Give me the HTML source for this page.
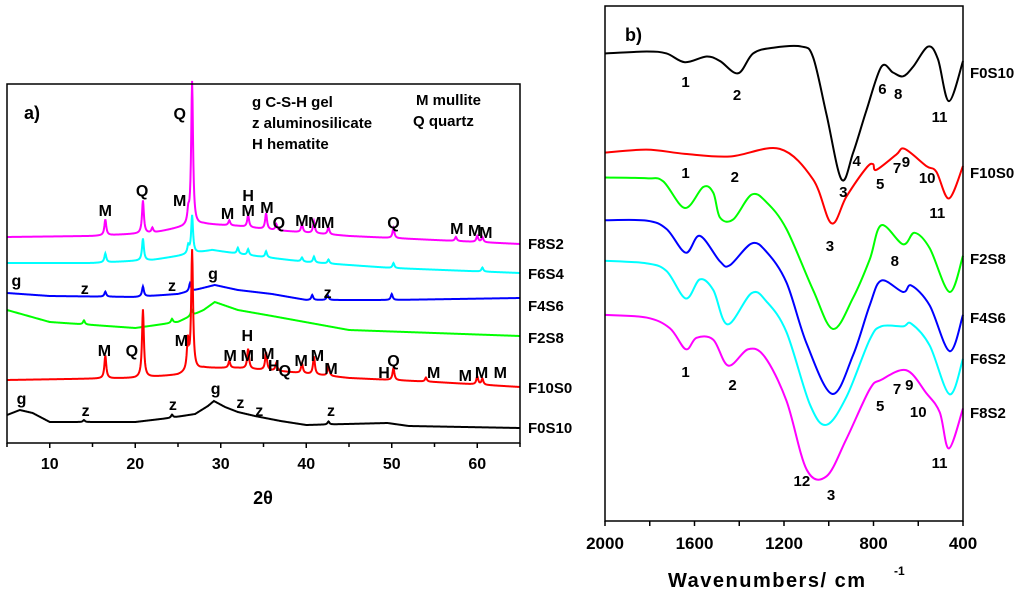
<!DOCTYPE html>
<html><head><meta charset="utf-8">
<style>
html,body{margin:0;padding:0;background:#fff;}
svg{display:block;font-family:"Liberation Sans",Arial,sans-serif;font-weight:bold;}
</style></head>
<body>
<svg id="fig" width="1024" height="599" viewBox="0 0 1024 599">
<g id="pa"></g>
<g id="pb"></g>
</svg>
<script>
// ---------- Panel a: XRD data (2θ, intensity a.u.) ----------
const xrdSeries = ["F8S2","F6S4","F4S6","F2S8","F10S0","F0S10"];
const xrdColors = ["#ff00ff","#00ffff","#0000ff","#00ff00","#ff0000","#000000"];
const baseF8S2 = [[5,213],[15,214],[22,217],[25,222],[28,226],[32,224],[36,220],[45,214],[55,210],[65,206]];
const peakF8S2 = [[16.5,16],[20.9,33],[22,5],[26.2,12],[26.65,144],[31,5],[33.2,12],[35.3,16],[36.5,6],[39.5,8],[40.9,12],[42.6,7],[50.2,10],[57.5,4],[60,6],[60.6,5]];
const baseF6S4 = [[5,187],[15,187],[22,190],[25,194],[29,200],[33,195],[40,188],[50,182],[65,177]];
const peakF6S4 = [[16.5,9],[20.9,22],[26.2,8],[26.65,38],[32,6],[33.2,6],[35.3,6],[39.5,4],[40.9,6],[42.6,4],[50.2,5],[60.6,4]];
const baseF4S6 = [[5,157],[10,154],[20,153],[25,156],[27,160],[29.3,165],[32,160],[36,156],[40,150],[50,150],[65,152]];
const peakF4S6 = [[16.5,5],[20.9,10],[26.4,8],[40.7,5],[42.5,5],[50,6]];
const baseF2S8 = [[5,140],[10,128],[20,122],[25,128],[28,140],[29.3,148],[32,140],[36,134],[45,120],[65,114]];
const peakF2S8 = [[14,4],[24.3,4],[26.6,6]];
const baseF10S0 = [[5,70],[20,72],[25,75],[28,82],[32,82],[38,78],[45,72],[55,68],[65,63]];
const peakF10S0 = [[16.5,23],[20.9,68],[26.15,30],[26.65,120],[31,7],[33.2,20],[35.3,18],[36.5,8],[39.5,10],[40.9,18],[42.6,10],[50.2,12],[54,4],[60,8],[60.6,6]];
const baseF0S10 = [[5,35],[6.5,40],[8,37],[10,28],[20,28],[24,32],[27,36],[28.5,44],[29.2,49],[30.5,43],[32,38],[34,34],[37,29],[40,25],[49.5,27],[52,24],[65,22]];
const peakF0S10 = [[14,2],[24.3,3],[42.6,3]];
const xrdTicks = [10,20,30,40,50,60];
const xrdLabelY = [243,273,305,337,387,427];
// phase marks: [letter, 2θ, page-y of label]
const xrdMarks = [
["Q",25.2,113],["M",16.5,210],["Q",20.8,190],["M",25.2,200],["M",30.8,213],["H",33.2,195],["M",33.2,210],["M",35.4,207],["Q",36.8,222],["M",39.5,220],["M",41.0,222],["M",42.5,222],["Q",50.2,222],["M",57.6,228],["M",59.7,230],["M",61.0,232],
["g",6.1,280],["z",14.1,288],["z",24.3,285],["g",29.1,273],["z",42.5,292],
["M",16.4,350],["Q",19.6,350],["M",25.4,340],["H",33.1,335],["M",31.1,355],["M",33.1,355],["M",35.5,353],["H",36.2,365],["Q",37.5,370],["M",39.4,360],["M",41.3,355],["M",42.9,368],["H",49.1,372],["Q",50.2,360],["M",54.9,372],["M",58.6,375],["M",60.5,372],["M",62.7,372],
["g",6.7,398],["z",14.2,410],["z",24.4,404],["g",29.4,388],["z",32.3,402],["z",34.5,410],["z",42.9,410]];

// ---------- Panel b: FTIR data (wavenumber, transmittance a.u.) ----------
const ftirSeries = ["F0S10","F10S0","F2S8","F4S6","F6S2","F8S2"];
const ftirColors = ["#000000","#ff0000","#00ff00","#0000ff","#00ffff","#ff00ff"];
const wnF0S10 = [2000,1814,1725,1643,1546,1486,1405,1338,1248,1122,1070,1010,943,891,832,765,713,668,623,556,512,463,400];
const tF0S10 = [1260,1265,1260,1237,1252,1240,1208,1260,1275,1278,1250,1100,930,1000,1110,1225,1210,1200,1225,1278,1245,1135,1240];
const wnF10S0 = [2000,1814,1643,1442,1219,1070,988,921,832,802,787,698,661,564,519,463,400];
const tF10S0 = [1000,1008,997,990,1010,930,815,885,960,970,955,995,1010,965,950,880,965];
const wnF2S8 = [2000,1814,1740,1643,1561,1516,1486,1427,1345,1278,1189,1070,981,891,817,765,668,616,549,460,400];
const tF2S8 = [935,933,925,855,910,895,830,825,890,870,800,640,538,620,720,810,760,790,750,635,730];
const wnF4S6 = [2000,1814,1725,1639,1576,1486,1442,1345,1278,1189,1099,985,891,817,765,668,631,549,460,400];
const tF4S6 = [823,822,800,738,782,715,705,762,740,660,500,368,470,600,665,635,652,600,480,575];
const wnF6S2 = [2000,1814,1725,1639,1576,1516,1452,1345,1278,1189,1084,1010,921,817,765,668,631,549,460,400];
const tF6S2 = [717,710,690,618,668,640,550,632,610,530,340,287,360,510,545,545,552,495,367,460];
const wnF8S2 = [2000,1814,1710,1639,1591,1516,1449,1360,1286,1189,1099,1010,921,817,765,653,564,504,463,400];
const tF8S2 = [575,568,540,485,515,510,442,485,465,350,170,152,250,380,405,430,370,320,225,330];
const ftirTicks = [2000,1600,1200,800,400];
const ftirLabelY = [72,172,258,317,358,412];
// band numbers: [label, wavenumber, page-y]
const ftirMarks = [
["1",1640,81],["2",1410,94],["3",935,191],["4",875,160],["6",760,88],["8",690,93],["11",505,116],
["1",1640,172],["2",1420,176],["3",995,245],["5",770,183],["7",695,167],["9",655,161],["10",560,177],["11",515,212],
["8",705,260],
["1",1640,371],["2",1430,384],["12",1120,480],["3",990,494],["5",770,405],["7",695,388],["9",640,384],["10",600,411],["11",505,462]];

const NS="http://www.w3.org/2000/svg";
function mk(parent,tag,attrs,text){const e=document.createElementNS(NS,tag);for(const k in attrs)e.setAttribute(k,attrs[k]);if(text!==undefined)e.textContent=text;parent.appendChild(e);return e;}
function interp(base,x){for(let i=0;i<base.length-1;i++){if(x<=base[i+1][0]){const t=(x-base[i][0])/(base[i+1][0]-base[i][0]);return base[i][1]+t*(base[i+1][1]-base[i][1]);}}return base[base.length-1][1];}

// ----- Panel a -----
const pa=document.getElementById('pa');
const AX0=7,AX1=520,AY0=84,AY1=443;
const xA=v=>AX0+(v-5)*(AX1-AX0)/60;
const yA=v=>450-v;
const xrdBases=[baseF8S2,baseF6S4,baseF4S6,baseF2S8,baseF10S0,baseF0S10];
const xrdPeaks=[peakF8S2,peakF6S4,peakF4S6,peakF2S8,peakF10S0,peakF0S10];
xrdSeries.forEach((name,i)=>{
  let d="";
  for(let x=5;x<=65.0001;x+=0.05){
    let v=interp(xrdBases[i],x);
    xrdPeaks[i].forEach(p=>{const w=0.13;v+=p[1]*w*w/((x-p[0])*(x-p[0])+w*w);});
    d+=(d?"L":"M")+xA(x).toFixed(2)+","+yA(v).toFixed(2);
  }
  const path=mk(pa,'path',{d:d,fill:'none',stroke:xrdColors[i],'stroke-width':2});
  
  
  const lb=mk(pa,'text',{x:528,y:xrdLabelY[i]+6,'font-size':15,fill:'#000'},name);
  
  
});
xrdMarks.forEach(m=>{
  const t=mk(pa,'text',{x:xA(m[1]),y:m[2]+6,'font-size':16,'text-anchor':'middle',fill:'#000'},m[0]);
  
  
});
const fa=mk(pa,'rect',{x:AX0,y:AY0,width:AX1-AX0,height:AY1-AY0,fill:'none',stroke:'#000','stroke-width':1.5});


for(let v=5;v<=65;v+=5){
  const major=xrdTicks.includes(v);
  const tk=mk(pa,'line',{x1:xA(v),x2:xA(v),y1:AY1,y2:AY1+(major?5:4),stroke:'#000','stroke-width':1.5});
  
  
}
xrdTicks.forEach(v=>{
  const t=mk(pa,'text',{x:xA(v),y:469,'font-size':16,'text-anchor':'middle'},v);
  
  
});
</script>
<script>
// static text for panel a
(function(){
const pa=document.getElementById('pa');
const NS="http://www.w3.org/2000/svg";
function T(x,y,s,txt,name,anchor){const e=document.createElementNS(NS,'text');e.setAttribute('x',x);e.setAttribute('y',y);e.setAttribute('font-size',s);if(anchor)e.setAttribute('text-anchor',anchor);e.textContent=txt;


pa.appendChild(e);}
T(24,119,18,"a)","xrd-panel-label");
T(252,107,15,"g C-S-H gel","legend-entry-gel");
T(252,128,15,"z aluminosilicate","legend-entry-aluminosilicate");
T(252,149,15,"H hematite","legend-entry-hematite");
T(416,105,15,"M mullite","legend-entry-mullite");
T(413,126,15,"Q quartz","legend-entry-quartz");
T(263,504,18,"2θ","xrd-x-axis-title","middle");
})();
</script>
<script>
// ----- Panel b -----
(function(){
const pb=document.getElementById('pb');
const BX0=605,BX1=963,BY0=6,BY1=521;
const xB=w=>BX0+(2000-w)*(BX1-BX0)/1600;
const yB=t=>(1400-t)/2.62;
const wns=[wnF0S10,wnF10S0,wnF2S8,wnF4S6,wnF6S2,wnF8S2];
const ts=[tF0S10,tF10S0,tF2S8,tF4S6,tF6S2,tF8S2];
ftirSeries.forEach((name,i)=>{
  const P=wns[i].map((w,j)=>[xB(w),yB(ts[i][j])]);
  let d="M"+P[0][0].toFixed(2)+","+P[0][1].toFixed(2);
  for(let j=0;j<P.length-1;j++){
    const p0=P[Math.max(j-1,0)],p1=P[j],p2=P[j+1],p3=P[Math.min(j+2,P.length-1)];
    const c1=[p1[0]+(p2[0]-p0[0])/6,p1[1]+(p2[1]-p0[1])/6];
    const c2=[p2[0]-(p3[0]-p1[0])/6,p2[1]-(p3[1]-p1[1])/6];
    d+="C"+c1[0].toFixed(2)+","+c1[1].toFixed(2)+" "+c2[0].toFixed(2)+","+c2[1].toFixed(2)+" "+p2[0].toFixed(2)+","+p2[1].toFixed(2);
  }
  const path=mk(pb,'path',{d:d,fill:'none',stroke:ftirColors[i],'stroke-width':2});
  
  
  const lb=mk(pb,'text',{x:970,y:ftirLabelY[i]+6,'font-size':15},name);
  
  
});
ftirMarks.forEach(m=>{
  const t=mk(pb,'text',{x:xB(m[1]),y:m[2]+6,'font-size':15,'text-anchor':'middle'},m[0]);
  
  
});
const fb=mk(pb,'rect',{x:BX0,y:BY0,width:BX1-BX0,height:BY1-BY0,fill:'none',stroke:'#000','stroke-width':1.5});


for(let w=2000;w>=400;w-=200){
  const tk=mk(pb,'line',{x1:xB(w),x2:xB(w),y1:BY1,y2:BY1+5,stroke:'#000','stroke-width':1.5});
  
  
}
ftirTicks.forEach(w=>{
  const t=mk(pb,'text',{x:xB(w),y:549,'font-size':17,'text-anchor':'middle'},w);
  
  
});
const bl=mk(pb,'text',{x:625,y:41,'font-size':18},"b)");


const at=mk(pb,'text',{x:668,y:587,'font-size':20,'letter-spacing':'1.5'},"Wavenumbers/ cm");


const sup=mk(pb,'text',{x:894,y:575,'font-size':12},"-1");


})();
</script>
</body></html>
